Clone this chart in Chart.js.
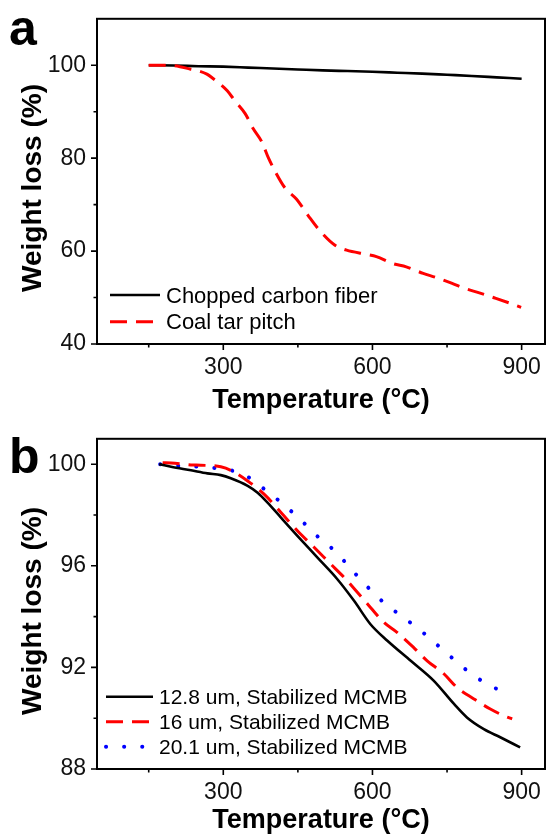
<!DOCTYPE html>
<html>
<head>
<meta charset="utf-8">
<script src="https://cdn.jsdelivr.net/npm/chart.js@4.4.1/dist/chart.umd.min.js"></script>
<style>
  html, body { margin: 0; padding: 0; background: #fff; }
  body { width: 546px; height: 838px; position: relative; overflow: hidden; }
  canvas { position: absolute; left: 0; }
  #chartA { top: 0; }
  #chartB { top: 420px; }
</style>
</head>
<body>
<canvas id="chartA" width="546" height="420"></canvas>
<canvas id="chartB" width="546" height="418"></canvas>
<script>
// shared x axis (temperature, °C)
const X_MAJOR = [300, 600, 900];
const X_MINOR = [150, 450, 750];

// panel a
const A_Y_MAJOR = [40, 60, 80, 100];
const A_Y_MINOR = [50, 70, 90];
const fiberT = [150, 200, 250, 300, 350, 400, 450, 500, 550, 600, 650, 700, 750, 800, 850, 900];
const fiberW = [100, 99.95, 99.8, 99.7, 99.5, 99.3, 99.1, 98.9, 98.75, 98.6, 98.4, 98.2, 97.95, 97.7, 97.4, 97.1];
const pitchT = [150, 185, 213, 233, 250, 267, 280, 293, 308, 323, 344, 360, 377, 391, 404, 424, 447, 471, 494, 524, 548, 588, 608, 641, 668, 702, 728, 759, 785, 815, 846, 876, 899];
const pitchW = [100, 100, 99.7, 99.2, 98.8, 98.1, 97.1, 96.0, 94.5, 92.4, 89.6, 86.4, 83.6, 80.0, 77.2, 73.6, 71.2, 67.6, 64.4, 61.3, 60.2, 59.3, 58.8, 57.3, 56.6, 55.2, 54.3, 53.1, 52.0, 51.0, 49.9, 48.8, 47.9];

// panel b
const B_Y_MAJOR = [88, 92, 96, 100];
const B_Y_MINOR = [90, 94, 98];
const m128T = [171, 195, 235, 268, 295, 315, 349, 369, 389, 416, 449, 489, 529, 563, 596, 630, 677, 723, 764, 790, 824, 857, 897];
const m128W = [100.0, 99.9, 99.76, 99.64, 99.57, 99.45, 99.15, 98.88, 98.49, 97.9, 97.18, 96.33, 95.48, 94.62, 93.7, 93.05, 92.26, 91.48, 90.56, 90.03, 89.57, 89.25, 88.85];
const m16T = [178, 195, 235, 255, 295, 315, 349, 382, 416, 449, 483, 516, 543, 570, 596, 623, 650, 683, 710, 744, 770, 804, 837, 864, 881];
const m16W = [100.06, 100.05, 99.97, 99.96, 99.9, 99.76, 99.34, 98.82, 98.1, 97.38, 96.72, 96.07, 95.54, 94.95, 94.36, 93.77, 93.37, 92.78, 92.26, 91.74, 91.21, 90.76, 90.36, 90.1, 89.97];
const m201T = [173, 211, 245, 282, 319, 352, 385, 419, 456, 490, 526, 559, 591, 624, 660, 695, 730, 767, 802, 837, 873];
const m201W = [100.0, 99.93, 99.91, 99.85, 99.74, 99.47, 98.98, 98.45, 97.8, 97.15, 96.55, 95.83, 95.15, 94.53, 94.0, 93.48, 92.89, 92.26, 91.7, 91.28, 90.95];

const FONT = "'Liberation Sans', Arial, Helvetica, sans-serif";
const RED_DASH = [17, 9];
const BLUE_DOT = [0.1, 18];

function pts(xs, ys) {
  return xs.map((x, i) => ({ x: x, y: ys[i] }));
}

// frame, tick marks, titles, panel letter and legend
function makeDecor(cfg) {
  return {
    id: "decor",
    afterDatasetsDraw(chart) {
      const { ctx, chartArea: a, scales: { x, y } } = chart;
      ctx.save();
      ctx.strokeStyle = "#000";
      ctx.lineWidth = 2;
      ctx.strokeRect(a.left, a.top, a.right - a.left, a.bottom - a.top);
      ctx.lineWidth = 1.6;
      ctx.beginPath();
      X_MAJOR.forEach((v) => { const p = x.getPixelForValue(v); ctx.moveTo(p, a.bottom); ctx.lineTo(p, a.bottom + 6); });
      X_MINOR.forEach((v) => { const p = x.getPixelForValue(v); ctx.moveTo(p, a.bottom); ctx.lineTo(p, a.bottom + 3.5); });
      cfg.yMajor.forEach((v) => { const p = y.getPixelForValue(v); ctx.moveTo(a.left, p); ctx.lineTo(a.left - 6, p); });
      cfg.yMinor.forEach((v) => { const p = y.getPixelForValue(v); ctx.moveTo(a.left, p); ctx.lineTo(a.left - 3.5, p); });
      ctx.stroke();

      // legend
      ctx.font = cfg.legendSize + "px " + FONT;
      ctx.fillStyle = "#000";
      ctx.textBaseline = "alphabetic";
      ctx.textAlign = "left";
      chart.data.datasets.forEach((ds, i) => {
        const ly = cfg.legendY + i * cfg.legendGap;
        ctx.save();
        ctx.strokeStyle = ds.borderColor;
        ctx.lineWidth = ds.borderWidth;
        ctx.lineCap = ds.borderCapStyle || "butt";
        ctx.setLineDash(ds.borderDash || []);
        ctx.beginPath();
        ctx.moveTo(cfg.legendX, ly);
        ctx.lineTo(cfg.legendX + cfg.legendLen, ly);
        ctx.stroke();
        ctx.restore();
        ctx.fillText(ds.label, cfg.legendX + cfg.legendLen + 6, ly + cfg.legendBase);
      });

      // axis titles
      ctx.font = "bold 27px " + FONT;
      ctx.textAlign = "center";
      ctx.fillText("Temperature (\u00B0C)", (a.left + a.right) / 2, cfg.xTitleY);
      ctx.save();
      ctx.font = "bold 28px " + FONT;
      ctx.translate(41, cfg.yTitleCenter);
      ctx.rotate(-Math.PI / 2);
      ctx.fillText("Weight loss (%)", 0, 0);
      ctx.restore();

      // panel letter
      ctx.font = "bold 50px " + FONT;
      ctx.textAlign = "left";
      ctx.fillText(cfg.letter, 9, cfg.letterY);
      ctx.restore();
    },
  };
}

function makeChart(id, datasets, yMin, yMax, yMajor, yMinor, padTop, axisH, decor) {
  return new Chart(document.getElementById(id), {
    type: "line",
    data: { datasets: datasets },
    options: {
      responsive: false,
      animation: false,
      layout: { padding: { top: padTop, right: 1, left: 0, bottom: 0 } },
      plugins: { legend: { display: false }, tooltip: { enabled: false } },
      elements: { point: { radius: 0 }, line: { cubicInterpolationMode: "monotone" } },
      scales: {
        x: {
          type: "linear",
          min: 46,
          max: 947,
          afterBuildTicks: (s) => {
            s.ticks = X_MINOR.concat(X_MAJOR).sort((p, q) => p - q).map((v) => ({ value: v }));
          },
          afterFit: (s) => { s.height = axisH; },
          grid: { drawOnChartArea: false, tickLength: 6, tickColor: "rgba(0,0,0,0)" },
          border: { display: false },
          ticks: {
            autoSkip: false,
            maxRotation: 0,
            padding: 4,
            color: "#111",
            font: { family: FONT, size: 23 },
            callback: (v) => (X_MAJOR.includes(v) ? String(v) : ""),
          },
        },
        y: {
          type: "linear",
          min: yMin,
          max: yMax,
          afterBuildTicks: (s) => {
            s.ticks = yMinor.concat(yMajor).sort((p, q) => p - q).map((v) => ({ value: v }));
          },
          afterFit: (s) => { s.width = 97; },
          grid: { drawOnChartArea: false, tickLength: 6, tickColor: "rgba(0,0,0,0)" },
          border: { display: false },
          ticks: {
            autoSkip: false,
            padding: 5,
            color: "#111",
            font: { family: FONT, size: 23 },
            callback: (v) => (yMajor.includes(v) ? String(v) : ""),
          },
        },
      },
    },
    plugins: [makeDecor(decor)],
  });
}

makeChart(
  "chartA",
  [
    { label: "Chopped carbon fiber", data: pts(fiberT, fiberW), borderColor: "#000000", borderWidth: 2.6, fill: false, order: 2 },
    { label: "Coal tar pitch", data: pts(pitchT, pitchW), borderColor: "#ff0000", borderWidth: 3, borderDash: RED_DASH, fill: false, order: 1 },
  ],
  40, 110, A_Y_MAJOR, A_Y_MINOR, 13, 76,
  {
    yMajor: A_Y_MAJOR, yMinor: A_Y_MINOR,
    legendX: 110, legendLen: 50, legendY: 295, legendGap: 26.7, legendBase: 7.5, legendSize: 22,
    xTitleY: 408, yTitleCenter: 188, letter: "a", letterY: 45,
  }
);

makeChart(
  "chartB",
  [
    { label: "12.8 um, Stabilized MCMB", data: pts(m128T, m128W), borderColor: "#000000", borderWidth: 2.6, fill: false, order: 1 },
    { label: "16 um, Stabilized MCMB", data: pts(m16T, m16W), borderColor: "#ff0000", borderWidth: 3, borderDash: RED_DASH, fill: false, order: 2 },
    { label: "20.1 um, Stabilized MCMB", data: pts(m201T, m201W), borderColor: "#0000ff", borderWidth: 4, borderDash: BLUE_DOT, borderCapStyle: "round", fill: false, order: 3 },
  ],
  88, 101, B_Y_MAJOR, B_Y_MINOR, 18, 69,
  {
    yMajor: B_Y_MAJOR, yMinor: B_Y_MINOR,
    legendX: 106, legendLen: 47, legendY: 276.7, legendGap: 25, legendBase: 7, legendSize: 21,
    xTitleY: 408, yTitleCenter: 191, letter: "b", letterY: 53,
  }
);
</script>
</body>
</html>
